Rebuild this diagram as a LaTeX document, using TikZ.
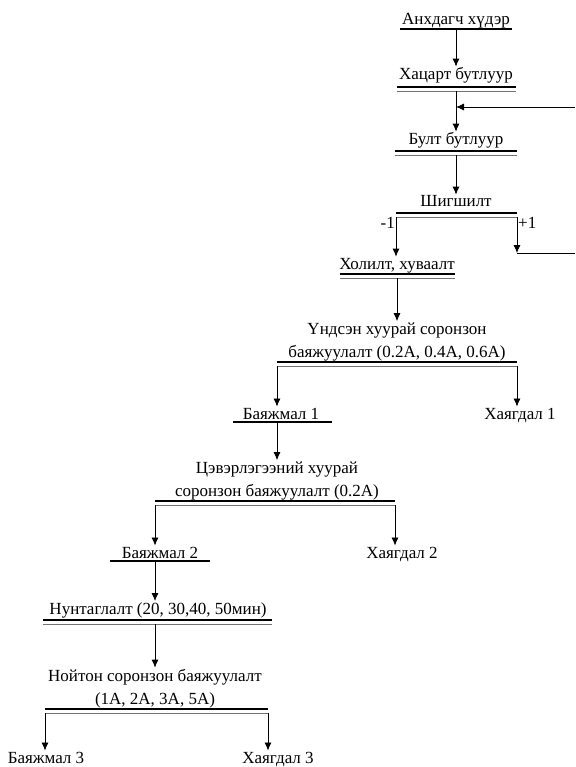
\documentclass[tikz,border=0pt]{standalone}
\usepackage{fontspec}
\setmainfont{Liberation Serif}
\usetikzlibrary{arrows.meta}
\begin{document}
\begin{tikzpicture}[x=1pt,y=-1pt,
  stage/.style={font=\fontsize{17}{23}\selectfont,align=center,inner sep=1pt,anchor=base},
  arr/.style={-{Latex[length=8pt,width=7pt]},line width=0.8pt},
  link/.style={line width=0.8pt},
  ubar/.style={line width=1.4pt},
  barT/.style={line width=1.8pt},
  barB/.style={line width=0.8pt,black!55}]
\useasboundingbox (0,0) rectangle (575,767);
\def\xa{456};
\def\xb{397};
\def\xc{277};
\def\xd{155};

\node[stage] (ore) at (\xa,25) {Анхдагч хүдэр};
\draw[ubar] (400,29) -- (512,29);
\coordinate (c1) at (\xa,29);

\node[stage] (jaw) at (\xa,80) {Хацарт бутлуур};
\draw[arr] (c1) -- (jaw.north);
\draw[barT] (397,87) -- (516,87);
\draw[barB] (397,91) -- (516,91);
\coordinate (c2) at (\xa,91);
\coordinate (fb-in) at (575,107);
\draw[arr] (fb-in) -- (fb-in -| c2);

\node[stage] (cone) at (\xa,145) {Булт бутлуур};
\draw[arr] (c2) -- (cone.north);
\draw[barT] (395,151) -- (517,151);
\draw[barB] (395,155) -- (517,155);
\coordinate (c3) at (\xa,155);

\node[stage] (screen) at (\xa,207) {Шигшилт};
\draw[arr] (c3) -- (screen.north);
\draw[barT] (396,213) -- (517,213);
\draw[barB] (396,217) -- (517,217);
\coordinate (c4l) at (396,217);
\coordinate (c4r) at (517,217);
\coordinate (fb-turn) at (517,253);
\coordinate (fb-out) at (575,253);
\node[stage,anchor=base east] (minus) at (c4l |- 0,228) {-1};
\node[stage,anchor=base west] (plus) at (c4r |- 0,228) {+1};

\node[stage] (mix) at (\xb,269) {Холилт, хуваалт};
\draw[arr] (c4l) -- (c4l |- mix.north);
\draw[arr] (c4r) -- (fb-turn);
\draw[link] (fb-turn) -- (fb-out);
\draw[barT] (340,274) -- (455,274);
\draw[barB] (340,278) -- (455,278);
\coordinate (c5) at (\xb,278);

\node[stage] (msep1) at (\xb,357) {Үндсэн хуурай соронзон\\баяжуулалт (0.2A, 0.4A, 0.6A)};
\draw[arr] (c5) -- (msep1.north);
\draw[barT] (277,362) -- (517,362);
\draw[barB] (277,366) -- (517,366);
\coordinate (c6l) at (277,366);
\coordinate (c6r) at (517,366);

\node[stage] (conc1) at (281,419) {Баяжмал 1};
\node[stage] (tail1) at (520,419) {Хаягдал 1};
\draw[arr] (c6l) -- (c6l |- conc1.north);
\draw[arr] (c6r) -- (c6r |- tail1.north);
\draw[ubar] (233,422) -- (332,422);
\coordinate (c7) at (\xc,422);

\node[stage] (msep2) at (\xc,496) {Цэвэрлэгээний хуурай\\соронзон баяжуулалт (0.2A)};
\draw[arr] (c7) -- (msep2.north);
\draw[barT] (155,501) -- (395,501);
\draw[barB] (155,505) -- (395,505);
\coordinate (c8l) at (155,505);
\coordinate (c8r) at (395,505);

\node[stage] (conc2) at (160,558) {Баяжмал 2};
\node[stage] (tail2) at (402,558) {Хаягдал 2};
\draw[arr] (c8l) -- (c8l |- conc2.north);
\draw[arr] (c8r) -- (c8r |- tail2.north);
\draw[ubar] (110,561) -- (210,561);
\coordinate (c9) at (\xd,561);

\node[stage] (grind) at (158,614) {Нунтаглалт (20, 30,40, 50мин)};
\draw[arr] (c9) -- (c9 |- grind.north);
\draw[barT] (43,620) -- (272,620);
\draw[barB] (43,624) -- (272,624);
\coordinate (c10) at (\xd,624);

\node[stage] (msep3) at (\xd,704) {Нойтон соронзон баяжуулалт\\(1A, 2A, 3A, 5A)};
\draw[arr] (c10) -- (msep3.north);
\draw[barT] (45,709) -- (268,709);
\draw[barB] (45,713) -- (268,713);
\coordinate (c11l) at (45,713);
\coordinate (c11r) at (268,713);

\node[stage] (conc3) at (46,763) {Баяжмал 3};
\node[stage] (tail3) at (278,763) {Хаягдал 3};
\draw[arr] (c11l) -- (c11l |- conc3.north);
\draw[arr] (c11r) -- (c11r |- tail3.north);
\end{tikzpicture}
\end{document}
